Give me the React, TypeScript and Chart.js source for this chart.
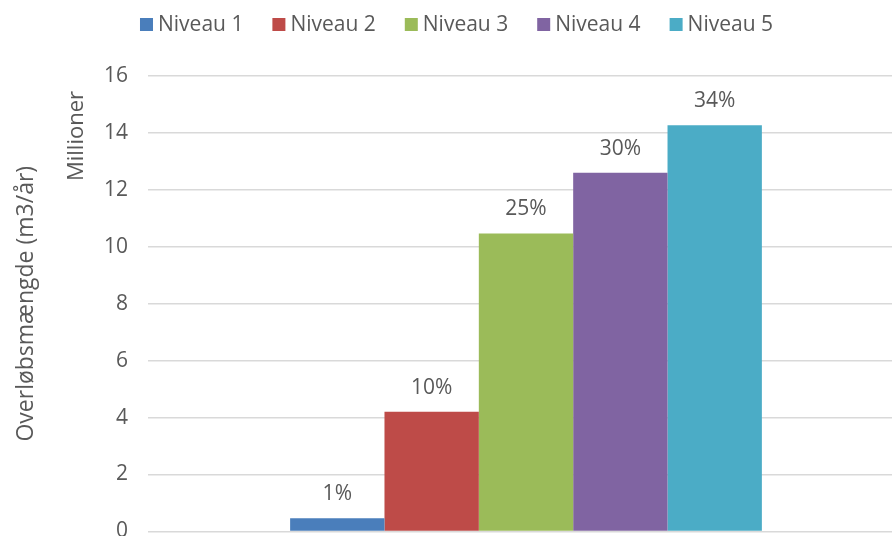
import React, { useEffect, useRef } from "react";
import { Chart, registerables } from "chart.js";

Chart.register(...registerables);

const categories = [""];
const seriesNames = ["Niveau 1", "Niveau 2", "Niveau 3", "Niveau 4", "Niveau 5"];
const seriesValues = [0.46, 4.2, 10.47, 12.6, 14.27];
const seriesShares = ["1%", "10%", "25%", "30%", "34%"];
const seriesColors = ["#4a7ebb", "#be4b48", "#9bbb59", "#8064a2", "#4bacc6"];
const yTicks = [0, 2, 4, 6, 8, 10, 12, 14, 16];

const FONT = "'Open Sans', 'DejaVu Sans', sans-serif";
const TEXT = "#595959";
const FS = 21;

const labelPlugin = {
  id: "barLabels",
  afterDatasetsDraw(chart: any) {
    const ctx = chart.ctx;
    ctx.save();
    ctx.fillStyle = TEXT;
    ctx.font = `${FS}px ${FONT}`;
    ctx.textAlign = "center";
    ctx.textBaseline = "middle";
    chart.data.datasets.forEach((ds: any, i: number) => {
      const meta = chart.getDatasetMeta(i);
      const el = meta.data[0];
      if (!el) return;
      ctx.fillText(seriesShares[i], el.x, el.y - 24);
    });
    ctx.restore();
  },
};

const unitPlugin = {
  id: "unitLabel",
  afterDraw(chart: any) {
    const ctx = chart.ctx;
    const y = chart.scales.y;
    ctx.save();
    ctx.fillStyle = TEXT;
    ctx.font = `22px ${FONT}`;
    ctx.textAlign = "center";
    ctx.textBaseline = "middle";
    ctx.translate(77, y.top + 60);
    ctx.rotate(-Math.PI / 2);
    ctx.fillText("Millioner", 0, 0);
    ctx.restore();
  },
};

const legendPlugin = {
  id: "topLegend",
  afterDraw(chart: any) {
    const ctx = chart.ctx;
    ctx.save();
    ctx.font = `${FS}px ${FONT}`;
    ctx.textBaseline = "middle";
    ctx.textAlign = "left";
    const box = 13;
    const gap = 5;
    const spacing = 29;
    const items = chart.data.datasets.map((ds: any) => ({
      text: ds.label,
      color: ds.backgroundColor,
      w: box + gap + ctx.measureText(ds.label).width,
    }));
    const total =
      items.reduce((s: number, it: any) => s + it.w, 0) + spacing * (items.length - 1);
    let x = 456.5 - total / 2;
    const cy = 24.5;
    items.forEach((it: any) => {
      ctx.fillStyle = it.color;
      ctx.fillRect(x, cy - box / 2, box, box);
      ctx.fillStyle = TEXT;
      ctx.fillText(it.text, x + box + gap, cy + 1);
      x += it.w + spacing;
    });
    ctx.restore();
  },
};

export default function App() {
  const ref = useRef<HTMLCanvasElement>(null);
  useEffect(() => {
    if (!ref.current) return;
    const chart = new Chart(ref.current, {
      type: "bar",
      data: {
        labels: categories,
        datasets: seriesNames.map((name, i) => ({
          label: name,
          data: [seriesValues[i]],
          backgroundColor: seriesColors[i],
          borderWidth: 0,
        })),
      },
      options: {
        responsive: false,
        animation: false,
        maintainAspectRatio: false,
        layout: { padding: { top: 76, bottom: 24, left: 0, right: 0 } },
        datasets: {
          bar: { categoryPercentage: 0.624, barPercentage: 1 },
        },
        plugins: {
          legend: { display: false },
          tooltip: { enabled: false },
        },
        scales: {
          x: { display: false },
          y: {
            min: 0,
            max: 16,
            afterBuildTicks(scale: any) {
              scale.ticks = yTicks.map((v) => ({ value: v }));
            },
            afterFit(scale: any) {
              scale.width = 148;
            },
            border: { display: false },
            grid: { color: "#d9d9d9", lineWidth: 1.5, drawTicks: false },
            ticks: {
              color: TEXT,
              font: { family: FONT, size: FS },
              padding: 20,
            },
            title: {
              display: true,
              text: "Overløbsmængde (m3/år)",
              color: TEXT,
              font: { family: FONT, size: 23 },
              padding: { top: 13, bottom: 0 },
            },
          },
        },
      },
      plugins: [labelPlugin, unitPlugin, legendPlugin],
    });
    return () => chart.destroy();
  }, []);
  return (
    <div
      style={{
        position: "fixed",
        left: 0,
        top: 0,
        width: 892,
        height: 536,
        overflow: "hidden",
        background: "#fff",
      }}
    >
      <canvas ref={ref} width={904} height={564} style={{ display: "block" }} />
    </div>
  );
}
